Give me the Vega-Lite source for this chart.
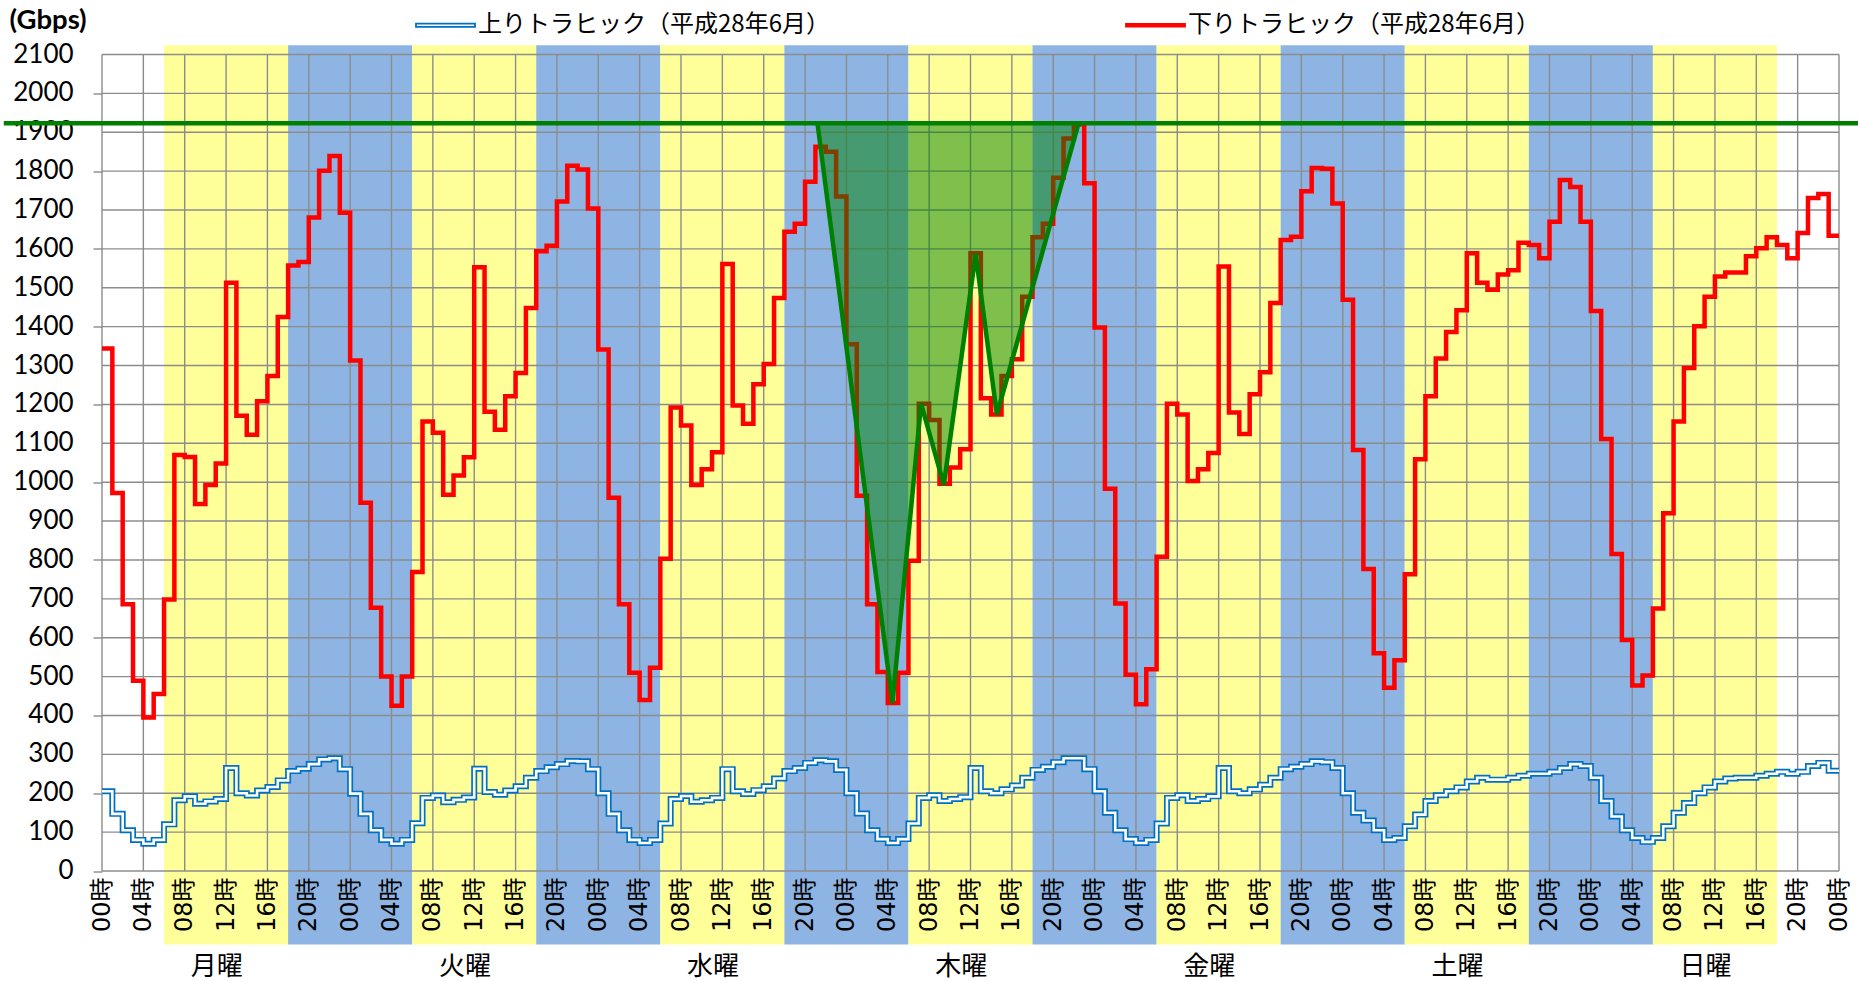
{
 "$schema": "https://vega.github.io/schema/vega-lite/v6.json",
 "width": 1737, "height": 816.5,
 "autosize": {"type": "none"},
 "padding": {"left": 102, "top": 54.5, "right": 19, "bottom": 110},
 "background": "white",
 "config": {"view": {"stroke": null}},
 "datasets": {
  "bands": [
   {"s": 6, "e": 18, "k": "y"}, {"s": 18, "e": 30, "k": "b"},
   {"s": 30, "e": 42, "k": "y"}, {"s": 42, "e": 54, "k": "b"},
   {"s": 54, "e": 66, "k": "y"}, {"s": 66, "e": 78, "k": "b"},
   {"s": 78, "e": 90, "k": "y"}, {"s": 90, "e": 102, "k": "b"},
   {"s": 102, "e": 114, "k": "y"}, {"s": 114, "e": 126, "k": "b"},
   {"s": 126, "e": 138, "k": "y"}, {"s": 138, "e": 150, "k": "b"},
   {"s": 150, "e": 162, "k": "y"}
  ],
  "hg": [{"v":0},{"v":100},{"v":200},{"v":300},{"v":400},{"v":500},{"v":600},{"v":700},{"v":800},{"v":900},{"v":1000},{"v":1100},{"v":1200},{"v":1300},{"v":1400},{"v":1500},{"v":1600},{"v":1700},{"v":1800},{"v":1900},{"v":2000},{"v":2100}],
  "vg": [{"h":0},{"h":4},{"h":8},{"h":12},{"h":16},{"h":20},{"h":24},{"h":28},{"h":32},{"h":36},{"h":40},{"h":44},{"h":48},{"h":52},{"h":56},{"h":60},{"h":64},{"h":68},{"h":72},{"h":76},{"h":80},{"h":84},{"h":88},{"h":92},{"h":96},{"h":100},{"h":104},{"h":108},{"h":112},{"h":116},{"h":120},{"h":124},{"h":128},{"h":132},{"h":136},{"h":140},{"h":144},{"h":148},{"h":152},{"h":156},{"h":160},{"h":164},{"h":168}],
  "t": [
   {"h":0,"up":205,"down":1344},{"h":1,"up":147,"down":972},{"h":2,"up":105,"down":686},{"h":3,"up":80,"down":489},{"h":4,"up":70,"down":395},{"h":5,"up":80,"down":455},{"h":6,"up":120,"down":698},{"h":7,"up":182,"down":1070},{"h":8,"up":192,"down":1065},{"h":9,"up":173,"down":944},{"h":10,"up":179,"down":993},{"h":11,"up":185,"down":1048},{"h":12,"up":265,"down":1513},{"h":13,"up":200,"down":1171},{"h":14,"up":194,"down":1122},{"h":15,"up":207,"down":1208},{"h":16,"up":216,"down":1273},{"h":17,"up":233,"down":1425},{"h":18,"up":257,"down":1557},{"h":19,"up":263,"down":1566},{"h":20,"up":275,"down":1681},{"h":21,"up":287,"down":1801},{"h":22,"up":290,"down":1839},{"h":23,"up":262,"down":1693},
   {"h":24,"up":199,"down":1313},{"h":25,"up":147,"down":947},{"h":26,"up":105,"down":677},{"h":27,"up":80,"down":500},{"h":28,"up":70,"down":425},{"h":29,"up":80,"down":500},{"h":30,"up":123,"down":769},{"h":31,"up":188,"down":1156},{"h":32,"up":194,"down":1127},{"h":33,"up":177,"down":968},{"h":34,"up":183,"down":1017},{"h":35,"up":189,"down":1064},{"h":36,"up":263,"down":1553},{"h":37,"up":203,"down":1181},{"h":38,"up":196,"down":1135},{"h":39,"up":207,"down":1221},{"h":40,"up":218,"down":1281},{"h":41,"up":240,"down":1448},{"h":42,"up":257,"down":1594},{"h":43,"up":267,"down":1608},{"h":44,"up":275,"down":1722},{"h":45,"up":283,"down":1814},{"h":46,"up":282,"down":1804},{"h":47,"up":262,"down":1704},
   {"h":48,"up":200,"down":1341},{"h":49,"up":147,"down":960},{"h":50,"up":105,"down":686},{"h":51,"up":80,"down":510},{"h":52,"up":72,"down":440},{"h":53,"up":80,"down":523},{"h":54,"up":122,"down":803},{"h":55,"up":185,"down":1192},{"h":56,"up":193,"down":1146},{"h":57,"up":178,"down":993},{"h":58,"up":182,"down":1033},{"h":59,"up":188,"down":1077},{"h":60,"up":262,"down":1561},{"h":61,"up":205,"down":1197},{"h":62,"up":198,"down":1150},{"h":63,"up":208,"down":1252},{"h":64,"up":218,"down":1304},{"h":65,"up":238,"down":1474},{"h":66,"up":257,"down":1644},{"h":67,"up":265,"down":1665},{"h":68,"up":278,"down":1773},{"h":69,"up":285,"down":1863},{"h":70,"up":282,"down":1850},{"h":71,"up":260,"down":1735},
   {"h":72,"up":200,"down":1355},{"h":73,"up":148,"down":965},{"h":74,"up":105,"down":686},{"h":75,"up":82,"down":512},{"h":76,"up":72,"down":432},{"h":77,"up":82,"down":510},{"h":78,"up":122,"down":798},{"h":79,"up":188,"down":1202},{"h":80,"up":195,"down":1160},{"h":81,"up":180,"down":996},{"h":82,"up":185,"down":1038},{"h":83,"up":190,"down":1085},{"h":84,"up":265,"down":1589},{"h":85,"up":205,"down":1216},{"h":86,"up":200,"down":1174},{"h":87,"up":210,"down":1273},{"h":88,"up":220,"down":1316},{"h":89,"up":240,"down":1477},{"h":90,"up":260,"down":1630},{"h":91,"up":268,"down":1665},{"h":92,"up":280,"down":1783},{"h":93,"up":290,"down":1884},{"h":94,"up":290,"down":1920},{"h":95,"up":262,"down":1769},
   {"h":96,"up":205,"down":1398},{"h":97,"up":150,"down":983},{"h":98,"up":105,"down":688},{"h":99,"up":82,"down":505},{"h":100,"up":72,"down":429},{"h":101,"up":80,"down":519},{"h":102,"up":122,"down":808},{"h":103,"up":188,"down":1202},{"h":104,"up":195,"down":1174},{"h":105,"up":180,"down":1003},{"h":106,"up":185,"down":1033},{"h":107,"up":192,"down":1075},{"h":108,"up":265,"down":1555},{"h":109,"up":205,"down":1179},{"h":110,"up":200,"down":1124},{"h":111,"up":210,"down":1226},{"h":112,"up":222,"down":1283},{"h":113,"up":240,"down":1461},{"h":114,"up":262,"down":1623},{"h":115,"up":268,"down":1631},{"h":116,"up":275,"down":1748},{"h":117,"up":282,"down":1808},{"h":118,"up":280,"down":1806},{"h":119,"up":265,"down":1717},
   {"h":120,"up":200,"down":1469},{"h":121,"up":150,"down":1083},{"h":122,"up":130,"down":777},{"h":123,"up":105,"down":560},{"h":124,"up":80,"down":471},{"h":125,"up":85,"down":542},{"h":126,"up":115,"down":763},{"h":127,"up":145,"down":1059},{"h":128,"up":180,"down":1221},{"h":129,"up":195,"down":1318},{"h":130,"up":205,"down":1386},{"h":131,"up":215,"down":1442},{"h":132,"up":230,"down":1589},{"h":133,"up":240,"down":1513},{"h":134,"up":235,"down":1495},{"h":135,"up":235,"down":1534},{"h":136,"up":240,"down":1545},{"h":137,"up":245,"down":1616},{"h":138,"up":250,"down":1610},{"h":139,"up":250,"down":1576},{"h":140,"up":255,"down":1670},{"h":141,"up":265,"down":1777},{"h":142,"up":275,"down":1759},{"h":143,"up":270,"down":1670},
   {"h":144,"up":240,"down":1440},{"h":145,"up":180,"down":1111},{"h":146,"up":140,"down":815},{"h":147,"up":105,"down":594},{"h":148,"up":85,"down":477},{"h":149,"up":75,"down":503},{"h":150,"up":85,"down":675},{"h":151,"up":115,"down":920},{"h":152,"up":150,"down":1156},{"h":153,"up":175,"down":1294},{"h":154,"up":200,"down":1401},{"h":155,"up":215,"down":1477},{"h":156,"up":230,"down":1529},{"h":157,"up":238,"down":1539},{"h":158,"up":240,"down":1539},{"h":159,"up":240,"down":1581},{"h":160,"up":245,"down":1602},{"h":161,"up":250,"down":1630},{"h":162,"up":255,"down":1610},{"h":163,"up":250,"down":1576},{"h":164,"up":255,"down":1641},{"h":165,"up":270,"down":1731},{"h":166,"up":278,"down":1741},{"h":167,"up":258,"down":1634},
   {"h":168,"up":258,"down":1634}
  ],
  "poly": [
   {"h":69.2,"v":1923},{"h":76.45,"v":432},{"h":79.22,"v":1202},{"h":81.42,"v":993},{"h":84.5,"v":1587},{"h":86.55,"v":1174},{"h":94.45,"v":1923}
  ],
  "peak": [{"a": -9.5, "b": 172, "v": 1923}],
  "days": [
   {"d":"月曜","h":11.1},{"d":"火曜","h":35.1},{"d":"水曜","h":59.1},{"d":"木曜","h":83.1},{"d":"金曜","h":107.1},{"d":"土曜","h":131.1},{"d":"日曜","h":155.1}
  ]
 },
 "layer": [
  {
   "data": {"name": "bands"},
   "mark": {"type": "rect"},
   "encoding": {
    "x": {"field": "s", "type": "quantitative",
     "scale": {"domain": [0, 168], "nice": false, "zero": false},
     "axis": {"values": [0,4,8,12,16,20,24,28,32,36,40,44,48,52,56,60,64,68,72,76,80,84,88,92,96,100,104,108,112,116,120,124,128,132,136,140,144,148,152,156,160,164,168],
      "labelExpr": "(datum.value % 24 < 10 ? '0' : '') + (datum.value % 24) + '時'",
      "labelAngle": 270, "labelAlign": "right", "labelBaseline": "middle",
      "labelFont": "DejaVu Sans, Noto Sans CJK JP", "labelFontSize": 24, "labelColor": "#000000",
      "labelPadding": 6, "ticks": false, "domain": false, "grid": false, "title": null,
      "zindex": 1, "labelOverlap": false, "labelFlush": false, "labelBound": false}},
    "x2": {"field": "e"},
    "y": {"datum": -189, "type": "quantitative",
     "scale": {"domain": [0, 2100], "nice": false, "zero": false},
     "axis": {"values": [0,100,200,300,400,500,600,700,800,900,1000,1100,1200,1300,1400,1500,1600,1700,1800,1900,2000,2100],
      "labels": false,
      "tickColor": "#8c8c8c", "tickSize": 9, "tickWidth": 1.4, "domain": false, "grid": false,
      "title": "(Gbps)", "titleAngle": 0, "titleFont": "Lato", "titleFontSize": 27.5, "titleFontWeight": "bold",
      "titleColor": "#000000", "titleAlign": "left", "titleBaseline": "middle", "titleX": -93, "titleY": -34, "zindex": 1}},
    "y2": {"datum": 2124},
    "fill": {"field": "k", "type": "nominal", "scale": {"domain": ["y", "b"], "range": ["#FFFF99", "#8DB4E2"]}, "legend": null}
   }
  },
  {
   "data": {"name": "hg"},
   "mark": {"type": "rule", "color": "#8c8c8c", "strokeWidth": 1.4},
   "encoding": {"y": {"field": "v", "type": "quantitative"}, "x": {"datum": 0}, "x2": {"datum": 168}}
  },
  {
   "data": {"name": "hg"},
   "mark": {"type": "text", "font": "Lato", "fontSize": 26, "color": "#000000", "align": "right", "baseline": "middle"},
   "encoding": {"y": {"field": "v", "type": "quantitative"}, "x": {"datum": -2.75}, "text": {"field": "v", "type": "quantitative", "format": "d"}}
  },
  {
   "data": {"name": "vg"},
   "mark": {"type": "rule", "color": "#8c8c8c", "strokeWidth": 1.4},
   "encoding": {"x": {"field": "h", "type": "quantitative"}, "y": {"datum": 0}, "y2": {"datum": 2100}}
  },
  {
   "data": {"name": "t"},
   "mark": {"type": "line", "interpolate": "step-after", "strokeWidth": 6},
   "encoding": {
    "x": {"field": "h", "type": "quantitative"},
    "y": {"field": "up", "type": "quantitative"},
    "color": {"datum": "上りトラヒック（平成28年6月）", "type": "nominal",
     "scale": {"domain": ["上りトラヒック（平成28年6月）", "下りトラヒック（平成28年6月）"], "range": ["#0070C0", "#FF0000"]},
     "legend": {"orient": "none", "legendX": 313, "legendY": -60, "direction": "horizontal", "title": null,
      "symbolType": "stroke", "symbolSize": 3481, "symbolStrokeWidth": 1.8,
      "labelFont": "Noto Sans CJK JP", "labelFontSize": 24, "labelColor": "#000000", "labelOffset": 2,
      "columnPadding": 292, "labelLimit": 600, "padding": 0,
      "encode": {"symbols": {"update": {
       "shape": {"signal": "datum.value === '上りトラヒック（平成28年6月）' ? 'M-1,-0.055H1V0.055H-1Z' : 'M-1,-0.045H1V0.045H-1Z'"},
       "fill": {"signal": "datum.value === '上りトラヒック（平成28年6月）' ? '#ffffff' : '#FF0000'"}
      }}}}}
   }
  },
  {
   "data": {"name": "t"},
   "mark": {"type": "line", "interpolate": "step-after", "strokeWidth": 2.6, "color": "#ffffff"},
   "encoding": {
    "x": {"field": "h", "type": "quantitative"},
    "y": {"field": "up", "type": "quantitative"}
   }
  },
  {
   "data": {"name": "t"},
   "mark": {"type": "line", "interpolate": "step-after", "strokeWidth": 4.5},
   "encoding": {
    "x": {"field": "h", "type": "quantitative"},
    "y": {"field": "down", "type": "quantitative"},
    "color": {"datum": "下りトラヒック（平成28年6月）", "type": "nominal"}
   }
  },
  {
   "data": {"name": "poly"},
   "mark": {"type": "line", "stroke": "#008000", "strokeWidth": 4.5, "fill": "#008000", "fillOpacity": 0.5},
   "encoding": {
    "x": {"field": "h", "type": "quantitative"},
    "y": {"field": "v", "type": "quantitative"}
   }
  },
  {
   "data": {"name": "peak"},
   "mark": {"type": "rule", "color": "#008000", "strokeWidth": 4.5},
   "encoding": {"x": {"field": "a", "type": "quantitative"}, "x2": {"field": "b"}, "y": {"field": "v", "type": "quantitative"}}
  },
  {
   "data": {"name": "days"},
   "mark": {"type": "text", "font": "Noto Sans CJK JP", "fontSize": 26, "color": "#000000", "baseline": "middle", "align": "center"},
   "encoding": {"x": {"field": "h", "type": "quantitative"}, "y": {"datum": -248}, "text": {"field": "d"}}
  }
 ]
}
